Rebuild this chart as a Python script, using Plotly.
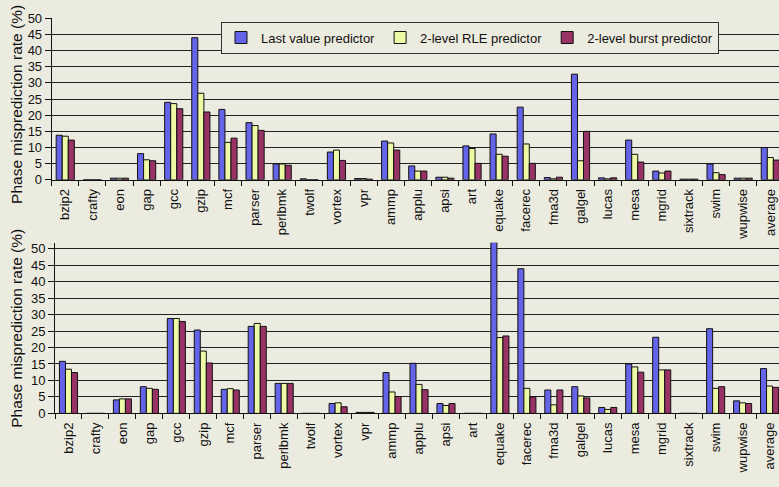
import plotly.graph_objects as go

# Benchmarks (SPECint, SPECfp and the mean)
benchmarks = ["bzip2", "crafty", "eon", "gap", "gcc", "gzip", "mcf", "parser", "perlbmk",
              "twolf", "vortex", "vpr", "ammp", "applu", "apsi", "art", "equake", "facerec",
              "fma3d", "galgel", "lucas", "mesa", "mgrid", "sixtrack", "swim", "wupwise", "average"]

series_names = ["Last value predictor", "2-level RLE predictor", "2-level burst predictor"]

# Upper panel: misprediction rate (%)
top_last = [13.8, 0, 0.5, 8.1, 24.0, 44.0, 21.8, 17.7, 4.9, 0.3, 8.6, 0.4, 12.0, 4.3, 0.8,
            10.5, 14.2, 22.5, 0.7, 32.7, 0.6, 12.3, 2.7, 0.2, 4.9, 0.5, 10.0]
top_rle = [13.5, 0, 0.5, 6.2, 23.6, 26.8, 11.6, 16.8, 4.9, 0, 9.2, 0.4, 11.4, 2.7, 0.8,
           9.7, 7.9, 11.1, 0.3, 5.9, 0.3, 7.9, 2.1, 0.2, 2.2, 0.5, 6.9]
top_burst = [12.3, 0, 0.5, 5.9, 22.0, 21.0, 12.9, 15.3, 4.5, 0, 6.0, 0.2, 9.2, 2.7, 0.5,
             5.1, 7.3, 5.1, 0.8, 15.0, 0.6, 5.5, 2.7, 0.2, 1.6, 0.5, 6.1]

# Lower panel: misprediction rate (%)
bot_last = [15.8, 0, 4.1, 8.1, 28.8, 25.3, 7.3, 26.4, 9.1, 0, 3.0, 0.3, 12.4, 15.2, 3.0,
            0, 52.0, 43.9, 7.1, 8.1, 1.8, 15.0, 23.1, 0, 25.7, 3.8, 13.6]
bot_rle = [13.4, 0, 4.4, 7.6, 28.8, 18.9, 7.5, 27.3, 9.1, 0, 3.2, 0.3, 6.5, 8.8, 2.4,
           0, 23.0, 7.6, 2.6, 5.3, 1.2, 14.1, 13.2, 0, 7.6, 3.2, 8.3]
bot_burst = [12.4, 0, 4.4, 7.3, 27.9, 15.3, 7.1, 26.4, 9.1, 0, 2.0, 0.3, 5.1, 7.2, 3.0,
             0, 23.5, 5.0, 7.1, 4.7, 1.8, 12.5, 13.2, 0, 8.1, 3.0, 7.9]

y_ticks = list(range(0, 51, 5))
y_title = "Phase misprediction rate (%)"

colors = ["#6464E8", "#EEF9A6", "#993366"]
BG = "#ECEBDF"
FONT = "Liberation Sans, Arial, sans-serif"

fig = go.Figure()

panels = [((top_last, top_rle, top_burst), "x", "y", True),
          ((bot_last, bot_rle, bot_burst), "x2", "y2", False)]
for values, xa, ya, show in panels:
    for name, vals, col in zip(series_names, values, colors):
        fig.add_trace(go.Bar(
            x=benchmarks, y=vals, name=name, xaxis=xa, yaxis=ya,
            marker=dict(color=col, line=dict(color="#111111", width=1)),
            showlegend=show, legendgroup=name,
        ))

H = 487.0
W = 779.0

def xaxis_cfg(left_px, right_val):
    return dict(
        domain=[left_px / W, 1.0],
        type="category",
        range=[-0.5, right_val],
        tickangle=-90,
        tickson="boundaries",
        ticks="outside", ticklen=5, tickcolor="#111111",
        ticklabelstandoff=3,
        showline=True, linecolor="#111111", linewidth=1,
        showgrid=False, zeroline=False,
        tickfont=dict(family=FONT, size=13, color="#111111"),
    )

def yaxis_cfg(bottom_px, top_px, top_val, anchor):
    return dict(
        domain=[(H - bottom_px) / H, (H - top_px) / H],
        range=[0, top_val],
        tickvals=y_ticks,
        ticks="outside", ticklen=6, tickcolor="#111111",
        showline=True, linecolor="#111111", linewidth=1,
        showgrid=True, gridcolor="#222222", gridwidth=1,
        zeroline=False,
        anchor=anchor,
        tickfont=dict(family=FONT, size=13, color="#111111"),
    )

# Rotated y titles placed beside each panel
titles = [dict(x=17 / W, y=(H - 101) / H), dict(x=17 / W, y=(H - 332) / H)]
annotations = [
    dict(text=y_title, xref="paper", yref="paper", x=t["x"], y=t["y"],
         xanchor="center", yanchor="middle", textangle=-90, showarrow=False,
         font=dict(family=FONT, size=15.5, color="#111111"))
    for t in titles
]

fig.update_layout(
    width=779, height=487,
    margin=dict(l=0, r=0, t=0, b=0),
    paper_bgcolor=BG, plot_bgcolor=BG,
    barmode="group", bargap=0.33, bargroupgap=0.0,
    xaxis=dict(xaxis_cfg(51.7, 26.32), anchor="y"),
    yaxis=yaxis_cfg(178.3, 11.7, 50, "x"),
    xaxis2=dict(xaxis_cfg(55.0, 26.35), anchor="y2"),
    yaxis2=yaxis_cfg(419.3, 243.2, 51.8, "x2"),
    annotations=annotations,
    legend=dict(
        orientation="h", x=221 / W, y=(H - 15) / H, xanchor="left", yanchor="top",
        bgcolor=BG, bordercolor="#333333", borderwidth=1,
        font=dict(family=FONT, size=13, color="#111111"),
        itemwidth=30, tracegroupgap=0,
    ),
    font=dict(family=FONT),
)

fig.write_html("out.html")
